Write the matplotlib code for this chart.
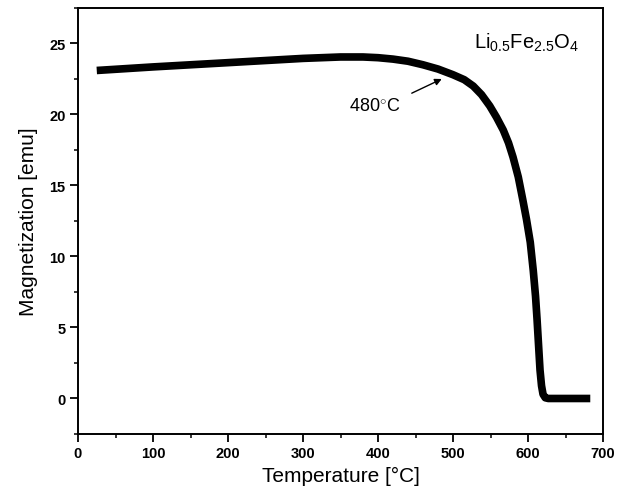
"""
Magnetization vs temperature for Li0.5Fe2.5O4.
"""
import matplotlib
matplotlib.use("Agg")
import matplotlib.pyplot as plt
from matplotlib.ticker import MultipleLocator

# values
temperature = [25, 100, 200, 300, 350, 380, 400, 420, 440, 460, 480, 500, 515,
               527, 538, 549, 558, 567, 574, 580, 587, 593, 598, 603, 607, 610,
               612, 614, 616, 618, 620, 623, 627, 683]
magnetization = [23.1, 23.35, 23.65, 23.95, 24.05, 24.05, 24.0, 23.9, 23.75, 23.5,
                 23.2, 22.8, 22.45, 22.0, 21.4, 20.6, 19.8, 18.9, 18.0, 17.0,
                 15.6, 14.0, 12.6, 11.0, 9.0, 7.2, 5.6, 3.8, 2.0, 0.9, 0.3,
                 0.05, 0.0, 0.0]

x_ticks = [0, 100, 200, 300, 400, 500, 600, 700]
y_ticks = [0, 5, 10, 15, 20, 25]

annot_text = "480$^{\\circ}$C"
annot_pos = (429, 20.65)
arrow_tip = (485, 22.5)
arrow_tail = (445, 21.5)
sample_label = "Li$_{0.5}$Fe$_{2.5}$O$_4$"

plt.rcParams['font.family'] = ['Liberation Sans', 'DejaVu Sans']
plt.rcParams['mathtext.fontset'] = 'custom'
plt.rcParams['mathtext.rm'] = 'Liberation Sans'
plt.rcParams['mathtext.it'] = 'Liberation Sans'

fig = plt.figure(figsize=(6.26, 5.02), dpi=100)
ax = fig.add_axes([0.1246, 0.1335, 0.8387, 0.8486])

ax.plot(temperature, magnetization, color='black', linewidth=5.5,
        solid_capstyle='butt', solid_joinstyle='round')

ax.set_xlim(0, 700)
ax.set_ylim(-2.5, 27.5)
ax.set_xticks(x_ticks)
ax.set_yticks(y_ticks)
ax.xaxis.set_minor_locator(MultipleLocator(50))
ax.yaxis.set_minor_locator(MultipleLocator(2.5))
ax.tick_params(which='major', direction='out', length=6, width=1.3,
               labelsize=10.5, top=False, right=False, pad=3)
ax.tick_params(which='minor', direction='out', length=3, width=1.1,
               top=False, right=False)
for lbl in ax.get_xticklabels() + ax.get_yticklabels():
    lbl.set_fontweight('bold')
for sp in ax.spines.values():
    sp.set_linewidth(1.4)

ax.set_xlabel("Temperature [°C]", fontsize=15, labelpad=4)
ax.set_ylabel("Magnetization [emu]", fontsize=15, labelpad=8)

ax.text(*annot_pos, annot_text, fontsize=13, ha='right', va='center')
ax.annotate('', xy=arrow_tip, xytext=arrow_tail,
            arrowprops=dict(arrowstyle='-|>', color='black', lw=1.0,
                            mutation_scale=10, shrinkA=0, shrinkB=0))
ax.text(528, 25.1, sample_label, fontsize=14.5, ha='left', va='center')

fig.savefig("out.png", dpi=100)
